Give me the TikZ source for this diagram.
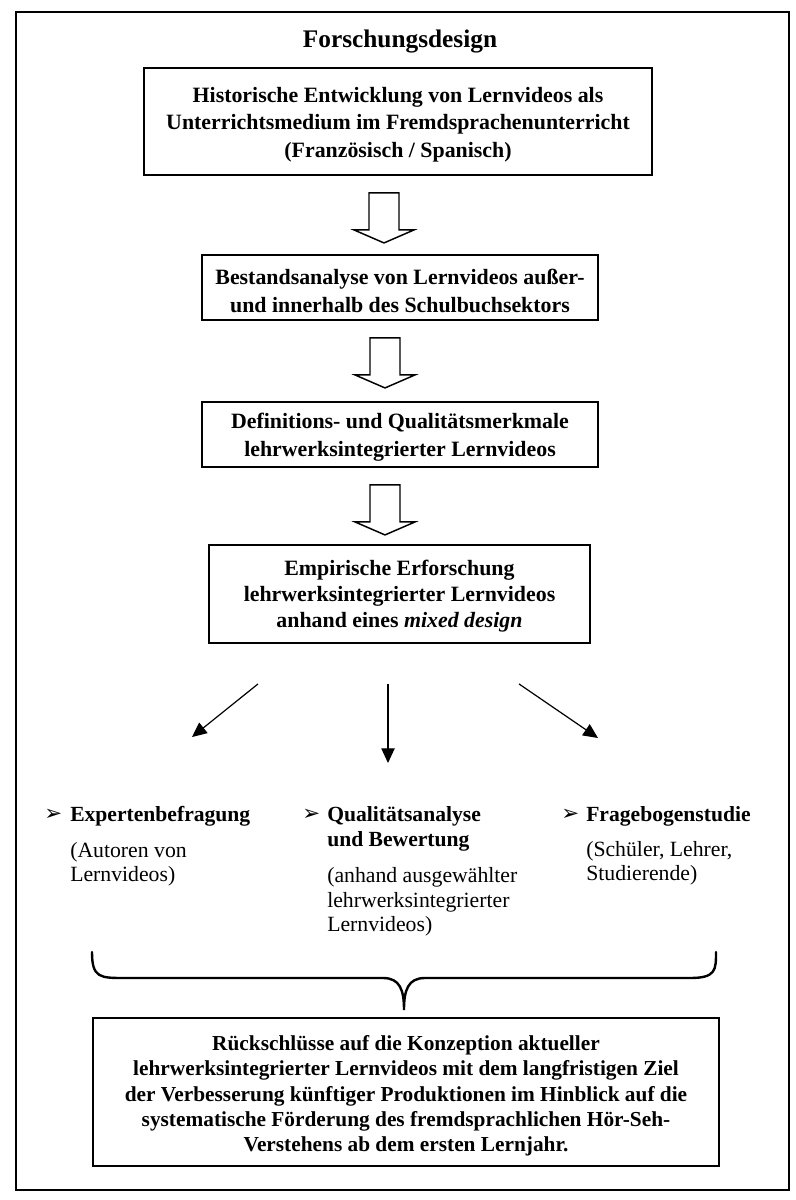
\documentclass[tikz,border=0pt]{standalone}
\usepackage{fontspec}
\setmainfont{Liberation Serif}
\newfontfamily\dingfont{DejaVu Sans}
\usetikzlibrary{arrows.meta,calc}
\begin{document}
\begin{tikzpicture}[x=0.75pt,y=-0.75pt,
  frame/.style={line width=1.2pt},
  box/.style={draw,line width=1.4pt,inner sep=0pt},
  btext/.style={inner sep=0pt,align=center,font=\fontsize{16.4}{21}\selectfont\bfseries},
  hollowarrow/.pic={\draw[line width=1.1pt,fill=white] (-15,0) -- (-15,37) -- (-30,37) -- (0,50) -- (30,37) -- (15,37) -- (15,0) -- cycle;},
  thinarrow/.style={line width=0.9pt,-{Triangle[length=11pt,width=10pt]}},
  bul/.style={anchor=base west,inner sep=0pt,font=\dingfont\fontsize{16}{18}\selectfont},
  head/.style={anchor=base west,inner sep=0pt,font=\fontsize{16.2}{20}\selectfont\bfseries},
  desc/.style={anchor=base west,inner sep=0pt,font=\fontsize{16.3}{20}\selectfont},
  brace/.style={line width=1.8pt,line cap=round}
]
\useasboundingbox (0,0) rectangle (796,1200);
\draw[frame] (16,12) rectangle (789,1190);

\node[inner sep=0pt,font=\fontsize{19}{23}\selectfont\bfseries] (title) at (400,42) {Forschungsdesign};

\node[box,minimum width=381pt,minimum height=80.25pt] (b1) at (398,121.5) {};
\node[btext,font=\fontsize{16.4}{20.8}\selectfont\bfseries] (t1) at ($(b1.center)+(0,3)$)
  {Historische Entwicklung von Lernvideos als\\Unterrichtsmedium im Fremdsprachenunterricht\\(Französisch / Spanisch)};
\node[box,minimum width=297pt,minimum height=48.75pt] (b2) at (400,287.5) {};
\node[btext] (t2) at ($(b2.center)+(0,3.5)$)
  {Bestandsanalyse von Lernvideos außer-\\und innerhalb des Schulbuchsektors};
\node[box,minimum width=297pt,minimum height=48.75pt] (b3) at (400,434.5) {};
\node[btext] (t3) at ($(b3.center)+(0,3)$)
  {Definitions- und Qualitätsmerkmale\\lehrwerksintegrierter Lernvideos};
\node[box,minimum width=285.75pt,minimum height=73.5pt] (b4) at (399.5,594) {};
\node[btext,font=\fontsize{16.4}{19.5}\selectfont\bfseries] (t4) at ($(b4.center)+(0,2)$)
  {Empirische Erforschung\\lehrwerksintegrierter Lernvideos\\anhand eines \textit{mixed design}};

\pic at ($(b1.south)+(-14,17)$) {hollowarrow};
\pic at ($(b2.south)+(-15,17)$) {hollowarrow};
\pic at ($(b3.south)+(-15,17)$) {hollowarrow};

\coordinate (s1) at ($(b4.south)+(-141.5,40)$);
\coordinate (e1) at (192,737);
\coordinate (s2) at ($(b4.south)+(-11.5,40)$);
\coordinate (e2) at (388,763);
\coordinate (s3) at ($(b4.south)+(119.5,40)$);
\coordinate (e3) at (598,738);
\draw[thinarrow] (s1) -- (e1);
\draw[thinarrow] (s2) -- (e2);
\draw[thinarrow] (s3) -- (e3);

\node[bul] (m1) at (44,820) {➢};
\node[head] (h1) at (70,821) {Expertenbefragung};
\node[desc] (d11) at (70,857) {(Autoren von};
\node[desc] (d12) at (70,881) {Lernvideos)};

\node[bul] (m2) at (302,820) {➢};
\node[head] (h2) at (327,821) {Qualitätsanalyse};
\node[head] (h2b) at (327,846) {und Bewertung};
\node[desc] (d21) at (327,882) {(anhand ausgewählter};
\node[desc] (d22) at (327,907) {lehrwerksintegrierter};
\node[desc] (d23) at (327,931) {Lernvideos)};

\node[bul] (m3) at (561,820) {➢};
\node[head] (h3) at (586,821) {Fragebogenstudie};
\node[desc] (d31) at (586,856) {(Schüler, Lehrer,};
\node[desc] (d32) at (586,880) {Studierende)};

\draw[brace] (92,952) .. controls (92,978) and (100,978) .. (125,978) -- (383,978)
  .. controls (400,978) and (404,990) .. (404,1010)
  .. controls (404,990) and (408,978) .. (425,978) -- (690,978)
  .. controls (716,978) and (716,970) .. (716,952);

\node[box,minimum width=469.5pt,minimum height=111pt] (b5) at (406,1092) {};
\node[btext,font=\fontsize{16}{19}\selectfont\bfseries] (t5) at ($(b5.center)+(0,4)$)
  {Rückschlüsse auf die Konzeption aktueller\\lehrwerksintegrierter Lernvideos mit dem langfristigen Ziel\\der Verbesserung künftiger Produktionen im Hinblick auf die\\systematische Förderung des fremdsprachlichen Hör-Seh-\\Verstehens ab dem ersten Lernjahr.};
\end{tikzpicture}
\end{document}
